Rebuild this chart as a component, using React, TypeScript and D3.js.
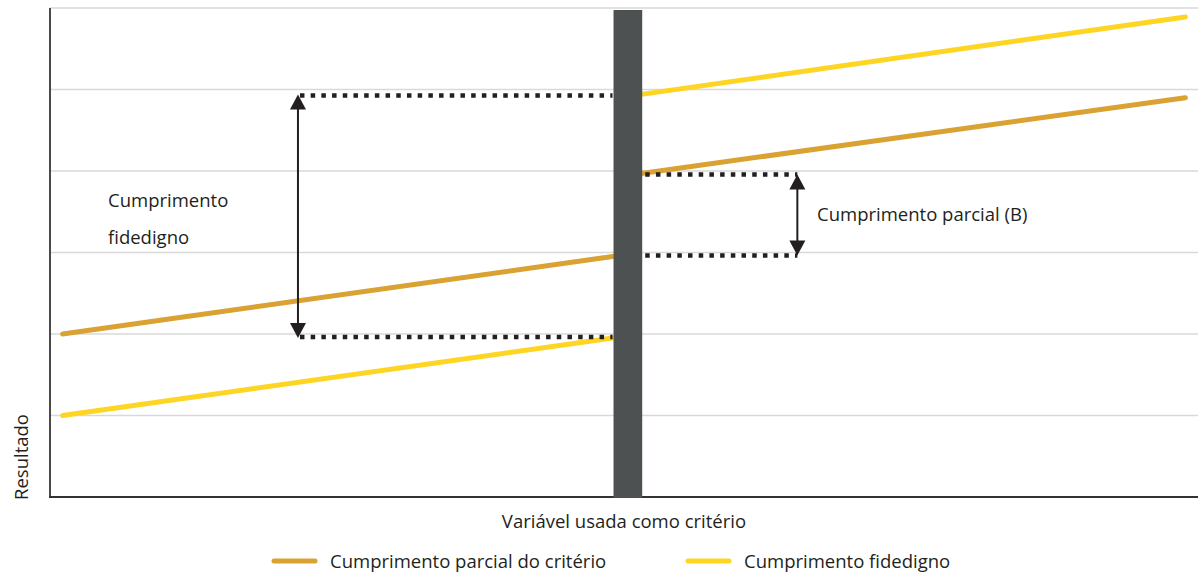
import React from "react";
import * as d3 from "d3";

const W = 1198;
const H = 579;

// data (x in 0..100 domain, y in 0..6 domain)
const yTicks = [1, 2, 3, 4, 5, 6];
const orangeLeft = [{ x: 1.1, y: 2.0 }, { x: 49.0, y: 2.95 }];
const orangeRight = [{ x: 51.5, y: 3.97 }, { x: 98.9, y: 4.9 }];
const yellowLeft = [{ x: 1.1, y: 1.0 }, { x: 49.0, y: 1.95 }];
const yellowRight = [{ x: 51.5, y: 4.94 }, { x: 98.9, y: 5.89 }];
const barX = [49.0, 51.5];
const leftArrowX = 21.6;
const rightArrowX = 65.1;
const legendLabels = ["Cumprimento parcial do critério", "Cumprimento fidedigno"];
const xTitle = "Variável usada como critério";
const yTitle = "Resultado";

const ORANGE = "#d9a232";
const YELLOW = "#fdd522";
const DARK = "#231f20";

export default function App() {
  const x = d3.scaleLinear().domain([0, 100]).range([50, 1198]);
  const y = d3.scaleLinear().domain([0, 6]).range([497, 8]);
  const line = d3
    .line<{ x: number; y: number }>()
    .x((d) => x(d.x))
    .y((d) => y(d.y));

  const font = "'Open Sans', 'Noto Sans', sans-serif";
  const fs = 18.5;

  const dotted = (x1: number, x2: number, yy: number, key: string) => (
    <line
      key={key}
      x1={x1}
      x2={x2}
      y1={yy}
      y2={yy}
      stroke={DARK}
      strokeWidth={4.5}
      strokeDasharray="4.5 6.2"
    />
  );

  const arrow = (ax: number, y1: number, y2: number, key: string) => {
    const hw = 8;
    const hh = 15;
    return (
      <g key={key}>
        <line x1={ax} x2={ax} y1={y1 + hh - 2} y2={y2 - hh + 2} stroke={DARK} strokeWidth={2} />
        <path d={`M${ax},${y1} L${ax - hw},${y1 + hh} L${ax + hw},${y1 + hh} Z`} fill={DARK} />
        <path d={`M${ax},${y2} L${ax - hw},${y2 - hh} L${ax + hw},${y2 - hh} Z`} fill={DARK} />
      </g>
    );
  };

  const lax = x(leftArrowX);
  const rax = x(rightArrowX);

  return (
    <svg
      width={W}
      height={H}
      style={{ position: "absolute", left: 0, top: 0, background: "#fff" }}
      fontFamily={font}
    >
      {yTicks.map((t) => (
        <line key={t} x1={50} x2={W} y1={y(t)} y2={y(t)} stroke="#d9d9d9" strokeWidth={1.5} />
      ))}
      <line x1={50} x2={50} y1={y(6)} y2={y(0)} stroke="#4a4a4a" strokeWidth={2} />
      <line x1={49} x2={W} y1={y(0)} y2={y(0)} stroke="#333" strokeWidth={2} />

      {[orangeLeft, orangeRight].map((d, i) => (
        <path key={"o" + i} d={line(d) || ""} stroke={ORANGE} strokeWidth={5} fill="none" strokeLinecap="round" />
      ))}
      {[yellowLeft, yellowRight].map((d, i) => (
        <path key={"y" + i} d={line(d) || ""} stroke={YELLOW} strokeWidth={5} fill="none" strokeLinecap="round" />
      ))}

      <rect x={x(barX[0]) + 1} y={10} width={x(barX[1]) - x(barX[0])} height={y(0) - 10 + 1} fill="#4d5152" />

      {dotted(lax + 2, x(barX[0]), y(yellowRight[0].y) + 1, "d1")}
      {dotted(lax + 2, x(barX[0]), y(yellowLeft[1].y) - 1, "d2")}
      {dotted(x(barX[1]) + 4, rax, y(orangeRight[0].y) + 1, "d3")}
      {dotted(x(barX[1]) + 4, rax, y(orangeLeft[1].y) - 1, "d4")}

      {arrow(lax, y(yellowRight[0].y), y(yellowLeft[1].y), "a1")}
      {arrow(rax, y(orangeRight[0].y) + 1, y(orangeLeft[1].y) - 1, "a2")}

      <text x={108} y={207} fontSize={fs} fill={DARK}>Cumprimento</text>
      <text x={108} y={244} fontSize={fs} fill={DARK}>fidedigno</text>
      <text x={817} y={221} fontSize={fs} fill={DARK}>Cumprimento parcial (B)</text>

      <text x={624} y={528} fontSize={fs} fill={DARK} textAnchor="middle">{xTitle}</text>
      <text transform={`translate(28,457) rotate(-90)`} fontSize={fs} fill={DARK} textAnchor="middle">{yTitle}</text>

      <line x1={274} x2={315} y1={561} y2={561} stroke={ORANGE} strokeWidth={5} strokeLinecap="round" />
      <text x={330} y={568} fontSize={fs} fill={DARK}>{legendLabels[0]}</text>
      <line x1={688} x2={729} y1={561} y2={561} stroke={YELLOW} strokeWidth={5} strokeLinecap="round" />
      <text x={744} y={568} fontSize={fs} fill={DARK}>{legendLabels[1]}</text>
    </svg>
  );
}
